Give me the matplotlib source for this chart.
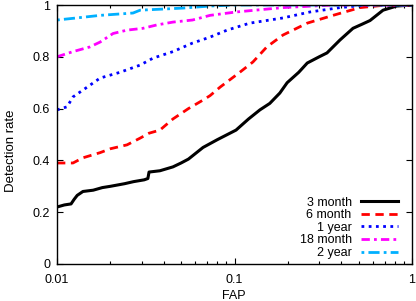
import matplotlib
matplotlib.use("Agg")
import matplotlib.pyplot as plt

plt.rcParams['font.family'] = ['Liberation Sans', 'DejaVu Sans']
plt.rcParams['font.size'] = 9

## 数据 (FAP, detection rate)
fap_3m = [0.01, 0.011, 0.012, 0.0125, 0.013, 0.014, 0.016, 0.018, 0.02, 0.024, 0.027, 0.031, 0.0325,
          0.033, 0.038, 0.045, 0.05, 0.055, 0.0665, 0.08, 0.102, 0.12, 0.139, 0.158, 0.18, 0.198,
          0.23, 0.257, 0.3, 0.332, 0.393, 0.465, 0.52, 0.58, 0.687, 0.82, 1.0]
det_3m = [0.22, 0.228, 0.232, 0.25, 0.265, 0.28, 0.285, 0.295, 0.30, 0.31, 0.318, 0.325, 0.33,
          0.355, 0.36, 0.375, 0.39, 0.405, 0.45, 0.48, 0.517, 0.56, 0.595, 0.62, 0.66, 0.70,
          0.74, 0.776, 0.80, 0.815, 0.865, 0.91, 0.925, 0.94, 0.98, 0.996, 1.0]

fap_6m = [0.01, 0.0123, 0.014, 0.0175, 0.02, 0.0248, 0.0294, 0.033, 0.038, 0.045, 0.055, 0.0665,
          0.0728, 0.083, 0.107, 0.127, 0.152, 0.1875, 0.257, 0.359, 0.51, 0.72, 1.0]
det_6m = [0.39, 0.39, 0.41, 0.43, 0.445, 0.46, 0.486, 0.505, 0.517, 0.56, 0.60, 0.633,
          0.65, 0.683, 0.74, 0.78, 0.838, 0.884, 0.93, 0.96, 0.99, 1.0, 1.0]

fap_1y = [0.01, 0.0114, 0.0123, 0.0148, 0.0175, 0.0226, 0.0294, 0.0348, 0.045, 0.058, 0.0728,
          0.0908, 0.122, 0.1875, 0.266, 0.393, 0.56, 1.0]
det_1y = [0.595, 0.607, 0.645, 0.683, 0.718, 0.74, 0.768, 0.795, 0.82, 0.853, 0.876,
          0.903, 0.93, 0.95, 0.973, 0.99, 1.0, 1.0]

fap_18m = [0.01, 0.0123, 0.0153, 0.0175, 0.0207, 0.0248, 0.0305, 0.0365, 0.045, 0.058, 0.0728,
           0.102, 0.1875, 0.36, 1.0]
det_18m = [0.80, 0.82, 0.838, 0.857, 0.89, 0.903, 0.91, 0.923, 0.934, 0.942, 0.96,
           0.973, 0.99, 1.0, 1.0]

fap_2y = [0.01, 0.0129, 0.0175, 0.0268, 0.0294, 0.051, 0.0728, 0.1, 1.0]
det_2y = [0.942, 0.95, 0.96, 0.969, 0.98, 0.988, 0.996, 1.0, 1.0]

labels = ["3 month", "6 month", "1 year", "18 month", "2 year"]

fig = plt.figure(figsize=(4.16, 3.01), dpi=100)
ax = fig.add_axes([57/416, 37/301, 355/416, 259/301])

ax.plot(fap_3m, det_3m, color="black", lw=2.2, label=labels[0])
ax.plot(fap_6m, det_6m, color="#ff0000", lw=2.0, dashes=(3, 2), label=labels[1])
ax.plot(fap_1y, det_1y, color="#0000ff", lw=2.0, dashes=(1, 1.6), label=labels[2])
ax.plot(fap_18m, det_18m, color="#ff00ff", lw=2.0, dashes=(3, 1.5, 1, 1.5), label=labels[3])
ax.plot(fap_2y, det_2y, color="#00b0ff", lw=2.0, dashes=(1, 1.5, 4, 1.5), label=labels[4])

ax.set_xscale("log")
ax.set_xlim(0.01, 1)
ax.set_ylim(0, 1)
ax.set_xticks([0.01, 0.1, 1])
ax.set_xticklabels(["0.01", "0.1", "1"])
ax.set_yticks([0, 0.2, 0.4, 0.6, 0.8, 1])
ax.set_yticklabels(["0", "0.2", "0.4", "0.6", "0.8", "1"])
ax.tick_params(which="both", direction="in", top=True, right=True, width=0.8)
ax.tick_params(which="major", length=4)
ax.tick_params(axis="y", which="major", pad=5)
ax.tick_params(axis="x", which="major", pad=7)
ax.tick_params(which="minor", length=2)
for sp in ax.spines.values():
    sp.set_linewidth(1.0)

ax.set_xlabel("FAP")
ax.xaxis.set_label_coords(234/416, 11/301, transform=fig.transFigure)
ax.set_ylabel("Detection rate", fontsize=9.5)
ax.yaxis.set_label_coords(17/416, 0.5, transform=fig.transFigure)

ax.legend(loc="lower right", bbox_to_anchor=(398/416, 42/301), bbox_transform=fig.transFigure,
          frameon=False, markerfirst=False, handlelength=3.0, handletextpad=0.7,
          labelspacing=0.05, borderpad=0, borderaxespad=0)

plt.savefig("out.png", dpi=100)
